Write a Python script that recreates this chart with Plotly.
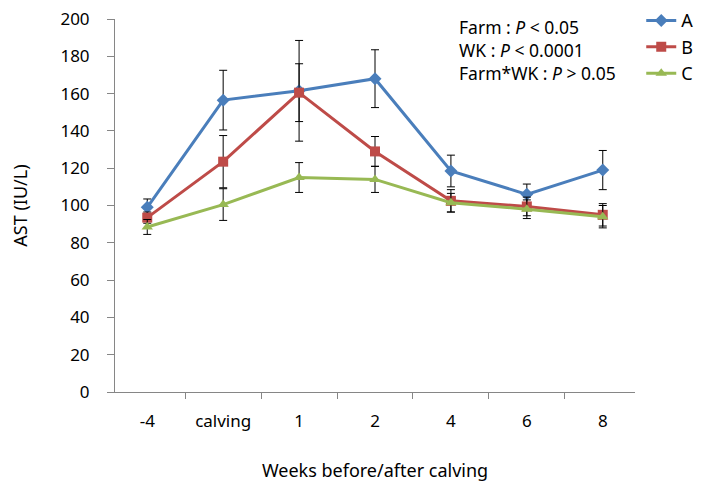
import plotly.graph_objects as go

categories = ["-4", "calving", "1", "2", "4", "6", "8"]
a_vals = [99, 156.5, 161.5, 168, 118.5, 106, 119]
a_err = [4.5, 16, 27, 15.5, 8.5, 5.5, 10.5]
b_vals = [93.5, 123.5, 160.5, 129, 102.5, 99.5, 95]
b_err = [3, 14, 15.5, 8, 6, 5, 6]
c_vals = [88.5, 100.5, 115, 114, 101.5, 98, 94]
c_err = [4, 8.5, 8, 7, 5, 5, 6]
y_ticks = [0, 20, 40, 60, 80, 100, 120, 140, 160, 180, 200]

FONT = "Noto Sans"
series = [
    ("A", a_vals, a_err, "#4A7EBB", "diamond", 10),
    ("B", b_vals, b_err, "#BE4B48", "square", 10),
    ("C", c_vals, c_err, "#98B954", "triangle-up", 10),
]

fig = go.Figure()
for name, vals, err, color, sym, size in series:
    fig.add_trace(go.Scatter(
        x=categories, y=vals, name=name, mode="lines+markers",
        line=dict(color=color, width=3),
        marker=dict(symbol=sym, size=size, color=color),
        error_y=dict(type="data", array=err, visible=True, color="black",
                     thickness=1, width=4),
    ))

ann_lines = [
    "Farm : <i>P</i> < 0.05",
    "WK : <i>P</i> < 0.0001",
    "Farm*WK : <i>P</i> > 0.05",
]
annotations = []
for i, t in enumerate(ann_lines):
    annotations.append(dict(
        text=t, xref="paper", yref="paper", x=(457 - 115) / 520,
        y=1 - (27 + 23 * i - 19) / 373, xanchor="left", yanchor="middle",
        showarrow=False, font=dict(family=FONT, size=17.5, color="black"),
    ))

fig.update_layout(
    width=700, height=485,
    margin=dict(l=107, r=73, t=11, b=101, autoexpand=False),
    paper_bgcolor="white", plot_bgcolor="white",
    font=dict(family=FONT, size=17, color="black"),
    showlegend=True,
    legend=dict(x=1.012, y=1.045, xanchor="left", yanchor="top",
                font=dict(family=FONT, size=18, color="black"),
                bgcolor="rgba(0,0,0,0)", itemwidth=30, tracegroupgap=0),
    annotations=annotations,
    xaxis=dict(
        type="category", showgrid=False, showline=True, linecolor="#868686",
        linewidth=1, ticks="outside", tickson="boundaries", ticklen=6,
        tickcolor="#868686", ticklabelstandoff=14,
        title=dict(text="Weeks before/after calving", standoff=32,
                   font=dict(family=FONT, size=18)),
        tickfont=dict(family=FONT, size=17),
    ),
    yaxis=dict(
        range=[0, 200], tickvals=y_ticks, showgrid=False, zeroline=False,
        showline=True, linecolor="#868686", linewidth=1, ticks="outside",
        ticklen=7, tickcolor="#868686", ticklabelstandoff=14,
        ticklabeloverflow="allow",
        title=dict(text="AST (IU/L)", standoff=30,
                   font=dict(family=FONT, size=18)),
        tickfont=dict(family=FONT, size=17),
    ),
)

fig.write_html("out.html")
